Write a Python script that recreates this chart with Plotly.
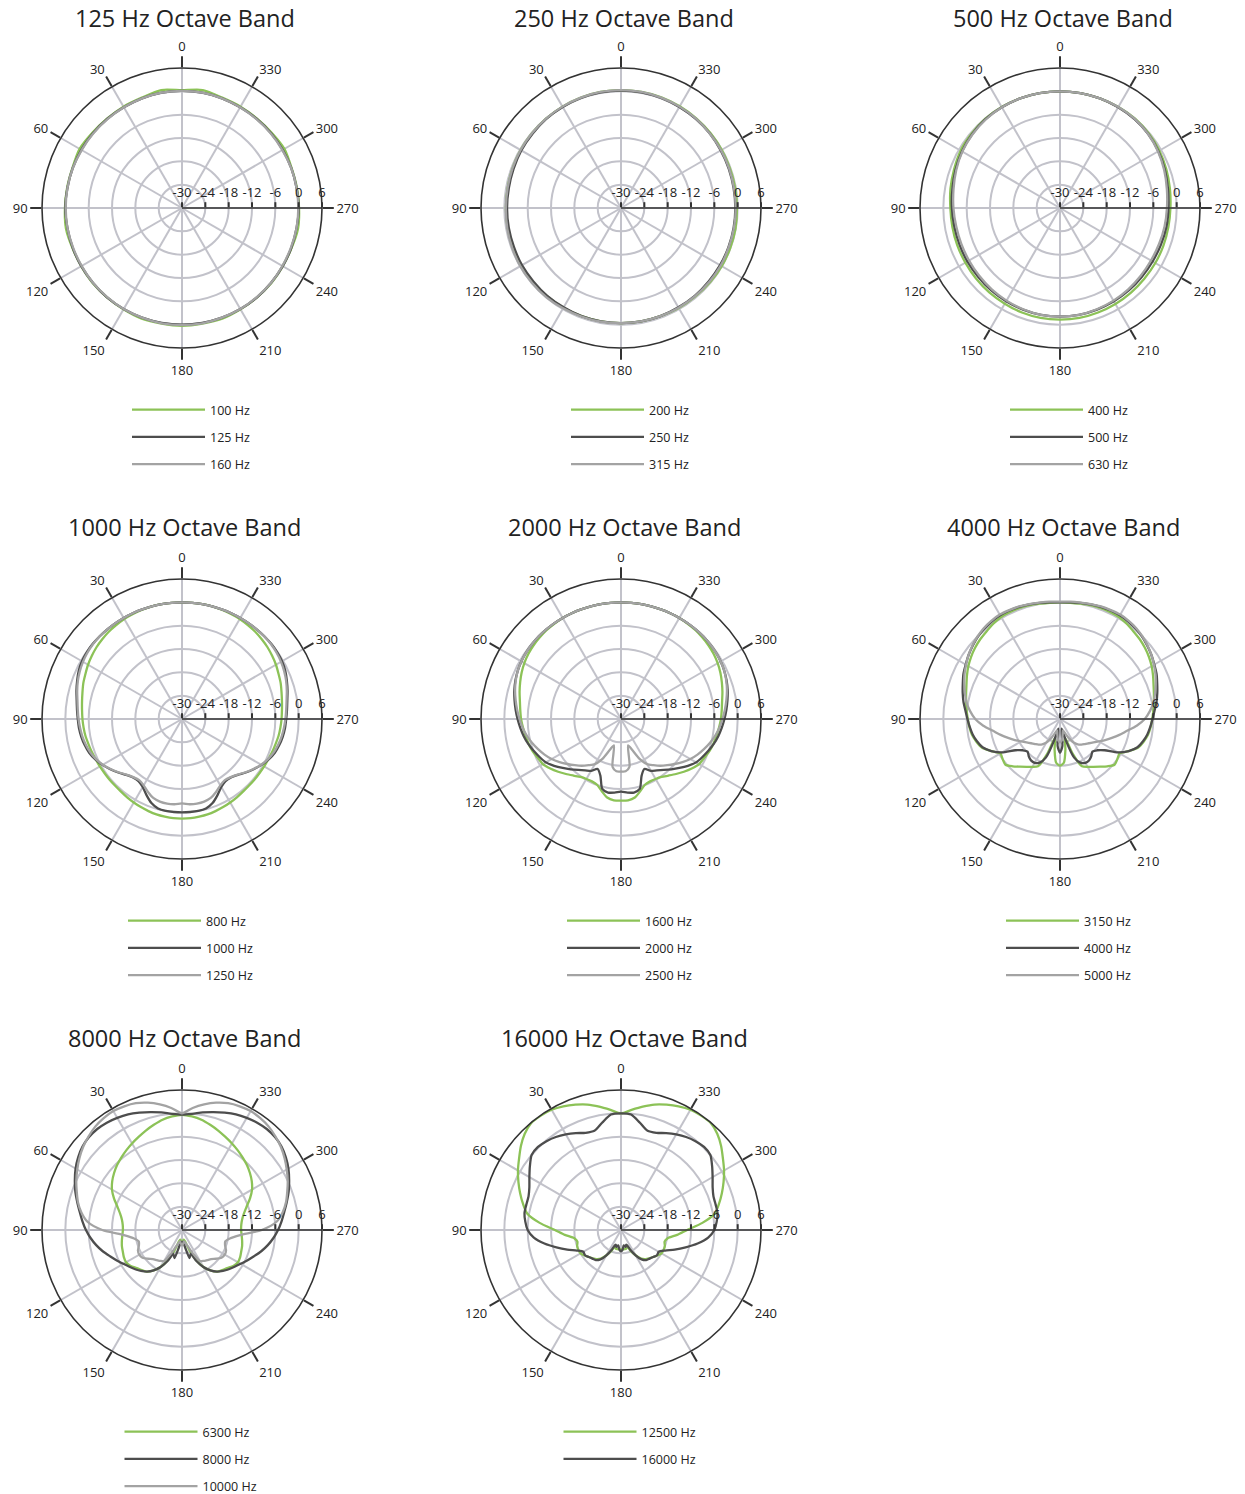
import plotly.graph_objects as go

W, H = 1245, 1494
R = 140

THETA10 = list(range(0, 360, 10))
THETA5 = list(range(0, 360, 5))
ANG_TICKS = list(range(0, 360, 30))
RAD_TICKS = [-30, -24, -18, -12, -6, 0, 6]

# ---------------- 125 Hz band (10 deg steps) ----------------
G100 = [0.3, 0.8, 0.2, 0.1, 0.0, 0.1, 0.4, 0.0, 0.0, 0.1, 0.3, 0.0, -0.1, 0.0, 0.0, 0.1, 0.3, 0.2,
        0.3, 0.2, 0.3, 0.1, 0.0, 0.0, -0.1, 0.0, 0.3, 0.1, 0.0, 0.0, 0.4, 0.1, 0.0, 0.1, 0.2, 0.8]
D125 = [0.1, 0.1, 0.0, -0.1, -0.1, -0.1, -0.1, -0.1, -0.1, 0.0, -0.1, -0.1, -0.1, -0.1, 0.0, 0.0, 0.0, 0.0,
        0.0, 0.0, 0.0, 0.0, 0.0, -0.1, -0.1, -0.1, -0.1, 0.0, -0.1, -0.1, -0.1, -0.1, -0.1, -0.1, 0.0, 0.1]
L160 = [0.1, 0.1, 0.0, -0.1, -0.2, -0.2, -0.2, -0.1, -0.1, -0.1, -0.1, -0.2, -0.2, -0.1, -0.1, 0.0, 0.0, 0.1,
        0.1, 0.1, 0.0, 0.0, -0.1, -0.1, -0.2, -0.2, -0.1, -0.1, -0.1, -0.1, -0.2, -0.2, -0.2, -0.1, 0.0, 0.1]

# ---------------- 250 Hz band (10 deg steps) ----------------
G200 = [0.3, 0.3, 0.2, 0.1, 0.0, -0.1, -0.2, -0.3, -0.4, -0.4, -0.4, -0.4, -0.4, -0.4, -0.4, -0.4, -0.4, -0.4,
        -0.4, -0.4, -0.4, -0.3, -0.3, -0.2, -0.1, -0.1, -0.1, -0.2, -0.2, -0.2, -0.1, 0.0, 0.1, 0.2, 0.3, 0.3]
D250 = [0.2, 0.2, 0.1, 0.0, -0.1, -0.3, -0.4, -0.6, -0.7, -0.7, -0.7, -0.7, -0.6, -0.6, -0.5, -0.5, -0.4, -0.4,
        -0.4, -0.4, -0.4, -0.5, -0.5, -0.6, -0.6, -0.6, -0.6, -0.6, -0.6, -0.5, -0.4, -0.2, -0.1, 0.0, 0.1, 0.2]
L315 = [0.3, 0.3, 0.2, 0.1, 0.0, -0.1, -0.2, -0.3, -0.4, -0.4, -0.3, -0.2, -0.1, -0.1, -0.1, -0.2, -0.3, -0.3,
        -0.4, -0.4, -0.4, -0.4, -0.4, -0.4, -0.4, -0.5, -0.5, -0.5, -0.5, -0.4, -0.3, -0.2, 0.0, 0.1, 0.2, 0.3]

# ---------------- 500 Hz band (10 deg steps) ----------------
G400 = [0.0, 0.0, 0.0, 0.0, -0.1, -0.3, -0.5, -1.0, -1.4, -1.8, -1.9, -1.9, -1.9, -1.8, -1.7, -1.6, -1.4, -1.3,
        -1.3, -1.3, -1.4, -1.5, -1.6, -1.7, -1.7, -1.7, -1.7, -1.6, -1.3, -0.9, -0.5, -0.2, 0.0, 0.0, 0.0, 0.0]
D500 = [0.0, 0.0, 0.0, -0.1, -0.2, -0.5, -0.9, -1.4, -1.9, -2.2, -2.4, -2.5, -2.5, -2.5, -2.4, -2.3, -2.2, -2.1,
        -2.1, -2.1, -2.2, -2.3, -2.4, -2.5, -2.5, -2.4, -2.2, -2.1, -1.8, -1.3, -0.8, -0.4, -0.2, -0.1, 0.0, 0.0]
L630 = [0.0, 0.0, 0.0, -0.1, -0.3, -0.6, -1.0, -1.6, -2.2, -2.6, -2.9, -3.0, -3.0, -2.9, -2.7, -2.5, -2.3, -2.1,
        -2.1, -2.1, -2.3, -2.5, -2.7, -2.9, -3.0, -2.9, -2.7, -2.5, -2.1, -1.5, -0.9, -0.4, -0.1, 0.0, 0.0, 0.0]

# ---------------- 1000 Hz band (5 deg steps) ----------------
G800 = [0, 0, 0, 0, -0.1, -0.2, -0.3, -0.5, -0.7, -1.0,
        -1.3, -1.7, -2.1, -2.6, -3.0, -3.5, -3.9, -4.2, -4.4, -4.6,
        -4.8, -5.1, -5.3, -5.5, -5.6, -5.7, -5.7, -5.7, -5.6, -5.4,
        -5.2, -5.0, -4.8, -4.6, -4.5, -4.4, -4.4, -4.4, -4.5, -4.6,
        -4.8, -5.0, -5.2, -5.4, -5.6, -5.7, -5.7, -5.7, -5.6, -5.5,
        -5.3, -5.1, -4.8, -4.6, -4.4, -4.2, -3.9, -3.5, -3.0, -2.6,
        -2.1, -1.7, -1.3, -1.0, -0.7, -0.5, -0.3, -0.2, -0.1, 0,
        0, 0]
D1000 = [0, 0, 0, 0, 0, 0, 0, 0, 0, 0,
         0, -0.1, -0.3, -0.7, -1.3, -1.9, -2.5, -2.9, -3.2, -3.4,
         -3.7, -4.1, -4.6, -5.4, -6.4, -7.5, -8.6, -9.7, -10.4, -10.5,
         -9.8, -8.4, -7.0, -6.2, -6.0, -6.0, -6.0, -6.0, -6.0, -6.2,
         -7.0, -8.4, -9.8, -10.5, -10.4, -9.7, -8.6, -7.5, -6.4, -5.4,
         -4.6, -4.1, -3.7, -3.4, -3.2, -2.9, -2.5, -1.9, -1.3, -0.7,
         -0.3, -0.1, 0, 0, 0, 0, 0, 0, 0, 0,
         0, 0]
L1250 = [0, 0, 0, 0, 0, 0, 0, 0, 0, 0,
         -0.1, -0.3, -0.6, -1.0, -1.5, -2.1, -2.7, -3.1, -3.4, -3.7,
         -4.0, -4.4, -4.9, -5.6, -6.5, -7.6, -8.7, -9.8, -10.5, -10.8,
         -10.3, -9.3, -8.4, -8.0, -7.9, -8.0, -8.3, -8.0, -7.9, -8.0,
         -8.4, -9.3, -10.3, -10.8, -10.5, -9.8, -8.7, -7.6, -6.5, -5.6,
         -4.9, -4.4, -4.0, -3.7, -3.4, -3.1, -2.7, -2.1, -1.5, -1.0,
         -0.6, -0.3, -0.1, 0, 0, 0, 0, 0, 0, 0,
         0, 0]

# ---------------- 2000 Hz band (5 deg steps) ----------------
G1600 = [0, 0, 0, 0, 0, 0, 0, -0.1, -0.2, -0.4,
         -0.6, -0.9, -1.3, -1.8, -2.4, -3.0, -3.6, -4.0, -4.3, -4.7,
         -5.1, -5.4, -5.8, -6.4, -6.8, -7.8, -8.9, -10.0, -11.0, -11.8,
         -12.2, -12.3, -12.0, -10.8, -9.5, -9.0, -9.0, -9.0, -9.5, -10.8,
         -12.0, -12.3, -12.2, -11.8, -11.0, -10.0, -8.9, -7.8, -6.8, -6.4,
         -5.8, -5.4, -5.1, -4.7, -4.3, -4.0, -3.6, -3.0, -2.4, -1.8,
         -1.3, -0.9, -0.6, -0.4, -0.2, -0.1, 0, 0, 0, 0,
         0, 0]
D2000 = [0, 0, 0, 0, 0, 0, 0, 0, 0, 0,
         -0.1, -0.2, -0.4, -0.7, -1.1, -1.6, -2.2, -2.8, -3.4, -4.0,
         -4.6, -5.3, -6.1, -6.9, -7.7, -9.0, -10.4, -11.7, -12.9, -13.9,
         -14.6, -15.8, -14.5, -11.4, -10.8, -11.0, -11.3, -11.0, -10.8, -11.4,
         -14.5, -15.8, -14.6, -13.9, -12.9, -11.7, -10.4, -9.0, -7.7, -6.9,
         -6.1, -5.3, -4.6, -4.0, -3.4, -2.8, -2.2, -1.6, -1.1, -0.7,
         -0.4, -0.2, -0.1, 0, 0, 0, 0, 0, 0, 0,
         0, 0]
L2500 = [0, 0, 0, 0, 0, 0, 0, 0, 0, 0,
         -0.1, -0.2, -0.4, -0.7, -1.2, -1.8, -2.5, -3.2, -3.9, -4.6,
         -5.4, -6.3, -7.3, -8.3, -9.4, -10.7, -12.0, -13.2, -14.3, -15.5,
         -16.6, -18.7, -21.5, -23.0, -17.5, -16.5, -16.5, -16.5, -17.5, -23.0,
         -21.5, -18.7, -16.6, -15.5, -14.3, -13.2, -12.0, -10.7, -9.4, -8.3,
         -7.3, -6.3, -5.4, -4.6, -3.9, -3.2, -2.5, -1.8, -1.2, -0.7,
         -0.4, -0.2, -0.1, 0, 0, 0, 0, 0, 0, 0,
         0, 0]

# ---------------- 4000 Hz band (5 deg steps) ----------------
G3150 = [0, 0, 0.1, 0.3, 0.4, 0.4, 0.3, -0.1, -0.6, -1.0,
         -1.5, -2.1, -2.8, -3.6, -4.4, -5.0, -5.5, -5.9, -6.3, -6.6,
         -7.0, -7.7, -8.6, -10.5, -12.3, -12.0, -11.7, -12.8, -14.0, -15.0,
         -15.8, -16.6, -20.5, -25.0, -22.0, -18.7, -18.0, -18.7, -22.0, -25.0,
         -20.5, -16.6, -15.8, -15.0, -14.0, -12.8, -11.7, -12.0, -12.3, -10.5,
         -8.6, -7.7, -7.0, -6.6, -6.3, -5.9, -5.5, -5.0, -4.4, -3.6,
         -2.8, -2.1, -1.5, -1.0, -0.6, -0.1, 0.3, 0.4, 0.4, 0.3,
         0.1, 0]
D4000 = [0, 0.1, 0.3, 0.5, 0.7, 0.8, 0.8, 0.6, 0.3, -0.1,
         -0.7, -1.3, -2.0, -2.6, -3.4, -4.1, -4.8, -5.6, -6.2, -6.7,
         -7.2, -7.9, -8.8, -10.5, -12.8, -16.0, -17.5, -18.2, -17.5, -17.0,
         -17.0, -17.6, -19.5, -24.5, -27.5, -23.0, -21.3, -23.0, -27.5, -24.5,
         -19.5, -17.6, -17.0, -17.0, -17.5, -18.2, -17.5, -16.0, -12.8, -10.5,
         -8.8, -7.9, -7.2, -6.7, -6.2, -5.6, -4.8, -4.1, -3.4, -2.6,
         -2.0, -1.3, -0.7, -0.1, 0.3, 0.6, 0.8, 0.8, 0.7, 0.5,
         0.3, 0.1]
L5000 = [0.2, 0.3, 0.4, 0.6, 0.8, 0.9, 1.0, 0.8, 0.5, 0.0,
         -0.6, -1.3, -2.1, -2.9, -3.8, -4.7, -5.6, -6.8, -8.2, -10.2,
         -12.5, -14.2, -15.8, -17.2, -18.5, -19.5, -20.3, -20.9, -21.4, -22.0,
         -23.0, -24.5, -26.0, -27.0, -26.0, -24.5, -24.0, -24.5, -26.0, -27.0,
         -26.0, -24.5, -23.0, -22.0, -21.4, -20.9, -20.3, -19.5, -18.5, -17.2,
         -15.8, -14.2, -12.5, -10.2, -8.2, -6.8, -5.6, -4.7, -3.8, -2.9,
         -2.1, -1.3, -0.6, 0.0, 0.5, 0.8, 1.0, 0.9, 0.8, 0.6,
         0.4, 0.3]

# ---------------- 8000 Hz band (5 deg steps) ----------------
G6300 = [-0.4, -0.7, -1.2, -2.0, -2.8, -3.6, -4.3, -5.0, -5.7, -6.4,
         -7.2, -8.1, -9.2, -10.7, -12.3, -13.5, -14.3, -14.7, -14.8, -14.6,
         -14.3, -14.0, -13.8, -13.5, -13.4, -13.9, -14.8, -15.4, -16.0, -17.3,
         -19.0, -21.5, -24.5, -27.0, -27.5, -27.0, -26.5, -27.0, -27.5, -27.0,
         -24.5, -21.5, -19.0, -17.3, -16.0, -15.4, -14.8, -13.9, -13.4, -13.5,
         -13.8, -14.0, -14.3, -14.6, -14.8, -14.7, -14.3, -13.5, -12.3, -10.7,
         -9.2, -8.1, -7.2, -6.4, -5.7, -5.0, -4.3, -3.6, -2.8, -2.0,
         -1.2, -0.7]
D8000 = [-0.3, 0.0, 0.7, 1.4, 2.1, 2.8, 3.3, 3.7, 3.9, 3.8,
         3.4, 2.6, 1.6, 0.4, -0.8, -2.1, -3.3, -4.3, -5.3, -6.4,
         -7.6, -8.9, -10.3, -11.5, -12.6, -13.5, -14.3, -15.1, -16.0, -17.3,
         -19.0, -21.2, -23.5, -22.5, -25.5, -27.0, -26.5, -27.0, -25.5, -22.5,
         -23.5, -21.2, -19.0, -17.3, -16.0, -15.1, -14.3, -13.5, -12.6, -11.5,
         -10.3, -8.9, -7.6, -6.4, -5.3, -4.3, -3.3, -2.1, -0.8, 0.4,
         1.6, 2.6, 3.4, 3.8, 3.9, 3.7, 3.3, 2.8, 2.1, 1.4,
         0.7, 0.0]
L10000 = [0, 1.5, 2.8, 3.9, 4.7, 5.1, 5.3, 5.1, 4.7, 4.0,
          3.2, 2.2, 1.1, 0.0, -1.2, -2.3, -3.7, -5.6, -9.5, -15.0,
          -17.5, -18.5, -18.2, -17.5, -17.3, -17.6, -18.5, -19.4, -19.9, -20.3,
          -20.8, -23.3, -25.5, -26.5, -27.0, -26.5, -26.0, -26.5, -27.0, -26.5,
          -25.5, -23.3, -20.8, -20.3, -19.9, -19.4, -18.5, -17.6, -17.3, -17.5,
          -18.2, -18.5, -17.5, -15.0, -9.5, -5.6, -3.7, -2.3, -1.2, 0.0,
          1.1, 2.2, 3.2, 4.0, 4.7, 5.1, 5.3, 5.1, 4.7, 3.9,
          2.8, 1.5]

# ---------------- 16000 Hz band (5 deg steps) ----------------
G12500 = [0, 1.0, 2.2, 3.4, 4.3, 5.1, 5.7, 5.9, 5.9, 5.0,
          3.6, 2.0, 0.6, -0.9, -2.4, -3.9, -5.5, -9.0, -13.0, -15.5,
          -17.8, -18.4, -18.0, -17.9, -18.0, -18.6, -19.2, -19.7, -20.2, -21.0,
          -22.5, -24.0, -25.5, -25.0, -25.0, -25.0, -25.0, -25.0, -25.0, -25.0,
          -25.5, -24.0, -22.5, -21.0, -20.2, -19.7, -19.2, -18.6, -18.0, -17.9,
          -18.0, -18.4, -17.8, -15.5, -13.0, -9.0, -5.5, -3.9, -2.4, -0.9,
          0.6, 2.0, 3.6, 5.0, 5.9, 5.9, 5.7, 5.1, 4.3, 3.4,
          2.2, 1.0]
D16000 = [0, -0.2, -2.0, -3.6, -3.4, -2.5, -1.6, -0.8, -0.2, 0.2,
          0.0, -1.4, -2.8, -4.0, -4.7, -4.8, -4.8, -5.3, -6.0, -7.5,
          -10.0, -12.8, -15.3, -17.5, -18.8, -18.7, -19.2, -19.6, -19.9, -20.8,
          -22.5, -24.5, -26.0, -25.5, -26.0, -25.0, -24.5, -25.0, -26.0, -25.5,
          -26.0, -24.5, -22.5, -20.8, -19.9, -19.6, -19.2, -18.7, -18.8, -17.5,
          -15.3, -12.8, -10.0, -7.5, -6.0, -5.3, -4.8, -4.8, -4.7, -4.0,
          -2.8, -1.4, 0.0, 0.2, -0.2, -0.8, -1.6, -2.5, -3.4, -3.6,
          -2.0, -0.2]

BANDS = [
    ("125 Hz Octave Band", THETA10, [("100 Hz", G100), ("125 Hz", D125), ("160 Hz", L160)]),
    ("250 Hz Octave Band", THETA10, [("200 Hz", G200), ("250 Hz", D250), ("315 Hz", L315)]),
    ("500 Hz Octave Band", THETA10, [("400 Hz", G400), ("500 Hz", D500), ("630 Hz", L630)]),
    ("1000 Hz Octave Band", THETA5, [("800 Hz", G800), ("1000 Hz", D1000), ("1250 Hz", L1250)]),
    ("2000 Hz Octave Band", THETA5, [("1600 Hz", G1600), ("2000 Hz", D2000), ("2500 Hz", L2500)]),
    ("4000 Hz Octave Band", THETA5, [("3150 Hz", G3150), ("4000 Hz", D4000), ("5000 Hz", L5000)]),
    ("8000 Hz Octave Band", THETA5, [("6300 Hz", G6300), ("8000 Hz", D8000), ("10000 Hz", L10000)]),
    ("16000 Hz Octave Band", THETA5, [("12500 Hz", G12500), ("16000 Hz", D16000)]),
]

COLORS = ["#8cc257", "#4d4d4d", "#a3a3a3"]
COL_X = [182, 621, 1060]
ROW_Y = [208, 719, 1230]
FONT = "Open Sans, Noto Sans, sans-serif"
GRID = "#c2c2ca"
AXIS = "#333333"

fig = go.Figure()
layout = dict(
    width=W, height=H, autosize=False, margin=dict(l=0, r=0, t=0, b=0, autoexpand=False),
    paper_bgcolor="white", plot_bgcolor="white",
    font=dict(family=FONT, color="#222222"),
    annotations=[],
)

for k, (title, theta, series) in enumerate(BANDS):
    cx = COL_X[k % 3]
    cy = ROW_Y[k // 3]
    pname = "polar" if k == 0 else f"polar{k + 1}"
    lname = "legend" if k == 0 else f"legend{k + 1}"
    for j, (name, vals) in enumerate(series):
        assert len(vals) == len(theta), (name, len(vals))
        fig.add_trace(go.Scatterpolar(
            theta=theta + [theta[0] + 360], r=vals + [vals[0]],
            mode="lines", name=name,
            line=dict(color=COLORS[j], width=2.3, shape="spline", smoothing=0.7),
            subplot=pname, legend=lname, legendgroup=f"g{k}_{j}",
            hoverinfo="skip",
        ))
    layout[pname] = dict(
        domain=dict(x=[(cx - R) / W, (cx + R) / W], y=[1 - (cy + R) / H, 1 - (cy - R) / H]),
        bgcolor="white",
        angularaxis=dict(
            rotation=90, direction="counterclockwise",
            tickmode="array", tickvals=ANG_TICKS, ticktext=[str(a) for a in ANG_TICKS],
            showline=True, linecolor=AXIS, linewidth=1.6,
            showgrid=True, gridcolor=GRID, gridwidth=1.5,
            ticks="outside", ticklen=11, tickwidth=1.5, tickcolor=AXIS,
            tickfont=dict(size=13, color="#222222", family=FONT),
        ),
        radialaxis=dict(
            range=[-30, 6], tickmode="array", tickvals=RAD_TICKS,
            ticktext=[str(v) for v in RAD_TICKS],
            angle=0, side="counterclockwise", tickangle=0,
            showline=True, linecolor=AXIS, linewidth=1.6,
            showgrid=True, gridcolor=GRID, gridwidth=1.5,
            ticks="outside", ticklen=5, tickwidth=1.5, tickcolor=AXIS,
            tickfont=dict(size=13, color="#222222", family=FONT),
        ),
    )
    layout[lname] = dict(
        x=(cx + 9) / W, xanchor="center",
        y=1 - (cy + 187) / H, yanchor="top",
        bgcolor="rgba(0,0,0,0)", borderwidth=0,
        font=dict(size=12.5, color="#222222", family=FONT),
        itemwidth=73, tracegroupgap=8, traceorder="grouped",
    )
    title_top = max(cy - 210, 0)
    layout["annotations"].append(dict(
        text=title, x=(cx + 3) / W, y=1 - title_top / H,
        xref="paper", yref="paper", xanchor="center", yanchor="top",
        showarrow=False, font=dict(size=23.5, color="#222222", family=FONT),
    ))

fig.update_layout(**layout)
fig.write_html(
    "out.html",
    config={"displayModeBar": False},
    post_script=("document.body.style.margin='0';"
                 "document.body.style.overflow='hidden';"
                 "document.documentElement.style.overflow='hidden';"),
)
